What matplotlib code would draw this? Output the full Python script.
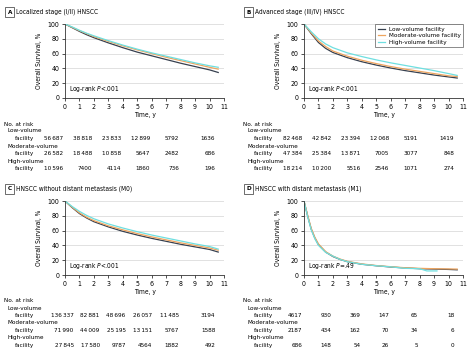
import matplotlib
matplotlib.use("Agg")
import matplotlib.pyplot as plt
import matplotlib.transforms as mtransforms

plt.rcParams['font.family'] = ['DejaVu Sans']
plt.rcParams['font.stretch'] = 'condensed'
plt.rcParams['mathtext.fontset'] = 'dejavusans'

FS = 4.6      # labels and table
FS_TICK = 5.0
C_LOW = '#37404f'
C_MOD = '#eea55f'
C_HIGH = '#6fdfe0'
TS = '\u2009'  # thin space in numbers

groups = ['Low-volume facility', 'Moderate-volume facility', 'High-volume facility']
risk_times = [0, 2, 4, 6, 8, 10]

# A: localized stage
t_a = [0, 0.5, 1, 1.5, 2, 3, 4, 5, 6, 7, 8, 9, 10, 10.6]
low_a = [100, 95, 90, 85.5, 81.5, 74.5, 68, 62, 57, 52, 47, 42.5, 38, 34.5]
mod_a = [100, 95.5, 91, 87, 83, 76.5, 70.5, 65, 60, 55, 50.5, 46, 41.5, 39]
high_a = [100, 96, 91.5, 87.5, 84, 77.5, 71.5, 66, 61, 56.5, 52, 47.5, 43.5, 41.5]
risk_a = [['56 687', '38 818', '23 833', '12 899', '5792', '1636'],
          ['26 582', '18 488', '10 858', '5647', '2482', '686'],
          ['10 596', '7400', '4114', '1860', '736', '196']]

# B: advanced stage
t_b = [0, 0.5, 1, 1.5, 2, 3, 4, 5, 6, 7, 8, 9, 10, 10.6]
low_b = [100, 87, 75, 67, 61.5, 54.5, 49, 44.5, 40.5, 37, 34, 31, 28.5, 27]
mod_b = [100, 88, 77, 69.5, 63.5, 56.5, 51, 46.5, 42.5, 39, 36, 33, 30, 29]
high_b = [100, 89.5, 80, 73, 68, 61, 56, 51.5, 47.5, 44, 40.5, 37, 33, 30.5]
risk_b = [['82 468', '42 842', '23 394', '12 068', '5191', '1419'],
          ['47 384', '25 384', '13 871', '7005', '3077', '848'],
          ['18 214', '10 200', '5516', '2546', '1071', '274']]

# C: without distant metastasis
t_c = [0, 0.5, 1, 1.5, 2, 3, 4, 5, 6, 7, 8, 9, 10, 10.6]
low_c = [100, 91, 83, 77, 72, 65, 59, 54, 49.5, 45.5, 41.5, 38, 34.5, 31]
mod_c = [100, 91.5, 84, 78, 73.5, 66.5, 61, 56, 51.5, 47.5, 43.5, 40, 36.5, 33.5]
high_c = [100, 92.5, 86, 80.5, 76, 69, 63.5, 58.5, 54, 50, 46, 42, 38.5, 35]
risk_c = [['136 337', '82 881', '48 696', '26 057', '11 485', '3194'],
          ['71 990', '44 009', '25 195', '13 151', '5767', '1588'],
          ['27 845', '17 580', '9787', '4564', '1882', '492']]

# D: with distant metastasis
t_d = [0, 0.25, 0.5, 0.75, 1, 1.5, 2, 2.5, 3, 4, 5, 6, 7, 8, 9, 10, 10.6]
low_d = [100, 80, 62, 50, 41, 31, 25, 21, 18, 14.5, 12.5, 10.8, 9.5, 8.5, 8, 7.5, 7]
mod_d = [100, 81, 63, 51, 42, 31.5, 25.5, 21.5, 18.5, 15, 12.8, 11.2, 9.8, 9, 8.5, 8.2, 8]
t_d_high = [0, 0.25, 0.5, 0.75, 1, 1.5, 2, 2.5, 3, 4, 5, 6, 7, 8, 8.5, 9.2]
high_d = [100, 79, 61, 49, 40, 30.5, 25.5, 21, 18, 14.5, 12.5, 11, 9, 8.5, 5.5, 5.5]
risk_d = [['4617', '930', '369', '147', '65', '18'],
          ['2187', '434', '162', '70', '34', '6'],
          ['686', '148', '54', '26', '5', '0']]
pvals = ['Log-rank $P$<.001', 'Log-rank $P$<.001', 'Log-rank $P$<.001', 'Log-rank $P$=.49']

W, H = 468, 355
fig = plt.figure(figsize=(W / 100, H / 100), dpi=100)


def px(x, y):
    return x / W, 1 - y / H


def panel(letter, title, left, top, t, curves, risk, ptext, cols, legend=False, t_high=None):
    ax = fig.add_axes([left / W, 1 - (top + 74) / H, 159 / W, 74 / H])
    tt = [t, t, t_high if t_high is not None else t]
    for tx, y, c, lab in zip(tt, curves, [C_LOW, C_MOD, C_HIGH], groups):
        ax.plot(tx, y, color=c, lw=0.9, label=lab)
    ax.set_xlim(0, 11)
    ax.set_ylim(0, 100)
    ax.set_xticks(range(12))
    ax.set_yticks(range(0, 101, 20))
    ax.grid(axis='y', color='#dcdcdc', lw=0.6)
    ax.set_axisbelow(True)
    for s in ['top', 'right']:
        ax.spines[s].set_visible(False)
    for s in ['left', 'bottom']:
        ax.spines[s].set_linewidth(0.6)
        ax.spines[s].set_color('#333333')
    ax.tick_params(labelsize=FS_TICK, length=2.5, width=0.6, pad=1.5, color='#333333')
    ax.set_xlabel('Time, y', fontsize=FS + 0.2, labelpad=2)
    ax.set_ylabel('Overall Survival, %', fontsize=FS + 0.2, labelpad=4)
    ax.text(0.3, 9, ptext, fontsize=FS + 0.1)
    if legend:
        lg = ax.legend(loc='upper right', fontsize=FS, frameon=True, fancybox=False,
                       handlelength=1.2, borderpad=0.4, labelspacing=0.15,
                       handletextpad=0.5, borderaxespad=0.0)
        lg.get_frame().set_edgecolor('#333333')
        lg.get_frame().set_linewidth(0.5)

    # title with boxed letter
    x0 = left - 61
    tx0, ty0 = px(x0 + 3.5, top - 12)
    fig.text(tx0, ty0, letter, fontsize=FS, fontweight='bold', ha='left', va='center',
             bbox=dict(boxstyle='square,pad=0.35', fc='white', ec='#333333', lw=0.5))
    tx1, _ = px(x0 + 12, 0)
    fig.text(tx1, ty0, title, fontsize=FS + 0.1, ha='left', va='center')

    # risk table
    trans = mtransforms.blended_transform_factory(ax.transData, fig.transFigure)
    fx, fy = px(x0, top + 100)
    fig.text(fx, fy, 'No. at risk', fontsize=FS, va='center')
    names = [('Low-volume', 'facility'), ('Moderate-volume', 'facility'), ('High-volume', 'facility')]
    for i, (n1, n2) in enumerate(names):
        y1 = top + 107 + i * 15
        y2 = y1 + 7.5
        fig.text(px(x0 + 4, 0)[0], px(0, y1)[1], n1, fontsize=FS, va='center')
        fig.text(px(x0 + 11, 0)[0], px(0, y2)[1], n2, fontsize=FS, va='center')
        for cx, val in zip(cols, risk[i]):
            ax.text(cx, px(0, y2)[1], val.replace(' ', TS), fontsize=FS, ha='right',
                    va='center', transform=trans)
    return ax


cols_std = [tm - 0.1 for tm in risk_times[:-1]] + [risk_times[-1] + 0.4]
cols_c = [0.6, 2.4, 4.2, 6.0, 7.9, 10.4]

panel('A', 'Localized stage (I/II) HNSCC', 65, 24, t_a, [low_a, mod_a, high_a], risk_a,
      pvals[0], cols_std)
panel('B', 'Advanced stage (III/IV) HNSCC', 304, 24, t_b, [low_b, mod_b, high_b], risk_b,
      pvals[1], cols_std, legend=True)
panel('C', 'HNSCC without distant metastasis (M0)', 65, 201, t_c, [low_c, mod_c, high_c], risk_c,
      pvals[2], cols_c)
panel('D', 'HNSCC with distant metastasis (M1)', 304, 201, t_d, [low_d, mod_d, high_d], risk_d,
      pvals[3], cols_std, t_high=t_d_high)

fig.savefig('out.png', dpi=100)
